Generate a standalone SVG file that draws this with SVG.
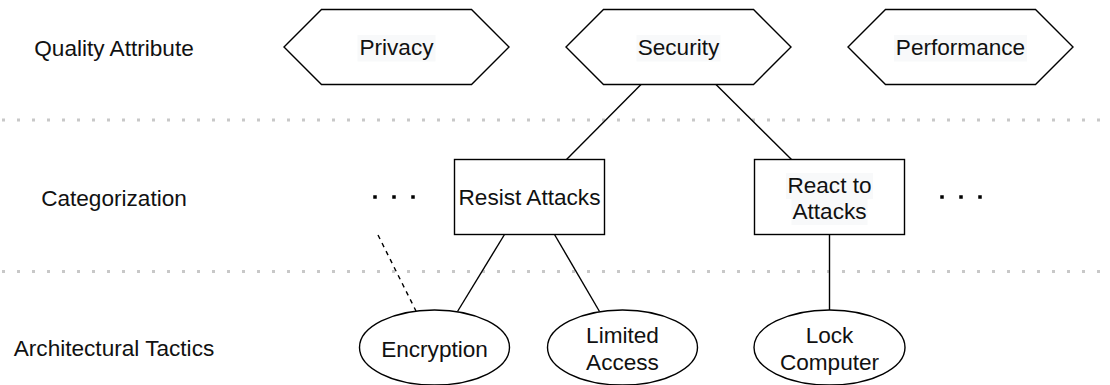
<svg xmlns="http://www.w3.org/2000/svg" width="1110" height="385" viewBox="0 0 1110 385">
  <style>
    text { font-family: "Liberation Sans", Arial, Helvetica, sans-serif; font-size: 22.6px; fill: #111111; }
    .mid { text-anchor: middle; }
    .shape { fill: #ffffff; stroke: #000000; stroke-width: 1.4; }
    .edge { fill: none; stroke: #000000; stroke-width: 1.4; }
    .dash { stroke-dasharray: 4.5 4.5; }
    .sep { fill: none; stroke: #c8c8c8; stroke-width: 3; stroke-dasharray: 3 12; }
    .more { fill: none; stroke: #000000; stroke-width: 3.5; stroke-dasharray: 3.5 15.5; }
    .lbl-bg { fill: #f8f9fa; }
  </style>

  <!-- layer separators -->
  <g id="separators">
    <line class="sep" x1="2" y1="120" x2="1110" y2="120"/>
    <line class="sep" x1="2" y1="271.5" x2="1110" y2="271.5"/>
  </g>

  <!-- row captions -->
  <g id="row-labels">
    <text class="mid" x="114" y="56">Quality Attribute</text>
    <text class="mid" x="114" y="206">Categorization</text>
    <text class="mid" x="114" y="356">Architectural Tactics</text>
  </g>

  <!-- connectors -->
  <g id="connectors">
    <line class="edge" x1="641" y1="84.5" x2="566.5" y2="159.5"/>
    <line class="edge" x1="716" y1="84.5" x2="791.5" y2="159.5"/>
    <line class="edge" x1="504.5" y1="234.5" x2="457.5" y2="311.5"/>
    <line class="edge" x1="554.5" y1="234.5" x2="599.5" y2="311.5"/>
    <line class="edge" x1="829.5" y1="234.5" x2="829.5" y2="310"/>
    <line class="edge dash" x1="378" y1="235" x2="416" y2="311"/>
  </g>

  <!-- quality attributes -->
  <g id="privacy">
    <polygon class="shape" points="284,47 321.5,9.5 471.5,9.5 509,47 471.5,84.5 321.5,84.5"/>
    <rect class="lbl-bg" x="357.5" y="35" width="78" height="26.5"/>
    <text class="mid" x="396.5" y="55">Privacy</text>
  </g>
  <g id="security">
    <polygon class="shape" points="566,47 603.5,9.5 753.5,9.5 791,47 753.5,84.5 603.5,84.5"/>
    <rect class="lbl-bg" x="636.5" y="35" width="84" height="26.5"/>
    <text class="mid" x="678.5" y="55">Security</text>
  </g>
  <g id="performance">
    <polygon class="shape" points="848,47 885.5,9.5 1035.5,9.5 1073,47 1035.5,84.5 885.5,84.5"/>
    <rect class="lbl-bg" x="894" y="35" width="133" height="26.5"/>
    <text class="mid" x="960.5" y="55">Performance</text>
  </g>

  <!-- categories -->
  <g id="resist-attacks">
    <rect class="shape" x="454.5" y="159.5" width="150" height="75"/>
    <text class="mid" x="529.5" y="205">Resist Attacks</text>
  </g>
  <g id="react-to-attacks">
    <rect class="shape" x="754.5" y="159.5" width="150" height="75"/>
    <rect class="lbl-bg" x="786" y="173" width="87" height="26"/>
    <rect class="lbl-bg" x="791.5" y="199" width="76" height="26"/>
    <text class="mid" x="829.5" y="193">React to</text>
    <text class="mid" x="829.5" y="219">Attacks</text>
  </g>
  <g id="more-left">
    <line class="more" x1="373.25" y1="197" x2="415" y2="197"/>
  </g>
  <g id="more-right">
    <line class="more" x1="940.25" y1="197" x2="982" y2="197"/>
  </g>

  <!-- tactics -->
  <g id="encryption">
    <ellipse class="shape" cx="434.5" cy="347.5" rx="75" ry="37.5"/>
    <text class="mid" x="434.5" y="356.5">Encryption</text>
  </g>
  <g id="limited-access">
    <ellipse class="shape" cx="622.5" cy="347.5" rx="75" ry="37.5"/>
    <text class="mid" x="622.5" y="343">Limited</text>
    <text class="mid" x="622.5" y="369.5">Access</text>
  </g>
  <g id="lock-computer">
    <ellipse class="shape" cx="829.5" cy="347.5" rx="75.5" ry="37.5"/>
    <text class="mid" x="829.5" y="343">Lock</text>
    <text class="mid" x="829.5" y="369.5">Computer</text>
  </g>
</svg>
